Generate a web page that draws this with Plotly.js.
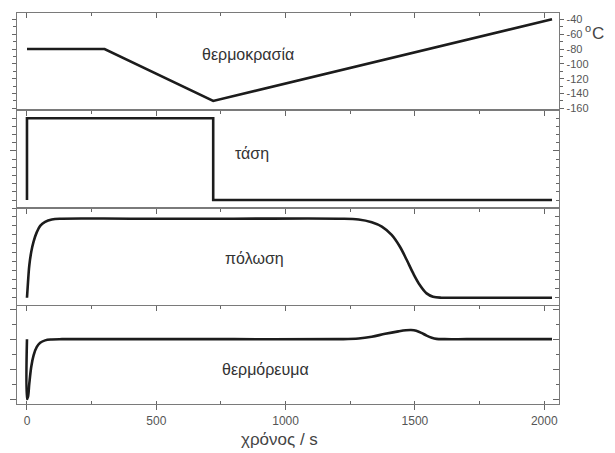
<!DOCTYPE html>
<html>
<head>
<meta charset="utf-8">
<script src="https://cdn.plot.ly/plotly-3.0.1.min.js"></script>
<style>html,body{margin:0;padding:0;background:#fff;}#chart{width:615px;height:453px;}</style>
</head>
<body>
<div id="chart"></div>
<script>
// ---- data ----
var timeTemp = [0, 300, 720, 2030];
var temperature = [-80, -80, -150, -40];

var timeVolt = [0, 0, 720, 720, 2030];
var voltage = [0, 1, 1, 0, 0];

var timePol = [0, 4, 9, 16.5, 25.5, 38, 51, 70, 96, 135, 400, 800, 1205, 1282, 1333, 1372, 1410, 1442, 1468, 1493, 1519, 1545, 1570, 1602, 1650, 1800, 2030];
var polarization = [0, 0.2, 0.41, 0.58, 0.71, 0.83, 0.91, 0.96, 0.99, 1.0, 1.0, 1.0, 1.0, 0.99, 0.955, 0.9, 0.795, 0.645, 0.48, 0.31, 0.16, 0.055, 0.013, 0, 0, 0, 0];

var timeCur = [0, 0, 4, 9, 16.5, 25.5, 38, 51, 70, 96, 135, 400, 800, 1205, 1282, 1333, 1385, 1436, 1465, 1485, 1505, 1525, 1545, 1565, 1583, 1615, 1700, 1850, 2030];
var current = [0, -1.0, -0.96, -0.74, -0.46, -0.27, -0.13, -0.06, -0.02, -0.005, 0, 0, 0, 0, 0.01, 0.04, 0.09, 0.13, 0.148, 0.152, 0.14, 0.105, 0.06, 0.025, 0.005, 0, 0, 0, 0];

var tempTickVals = [-40, -60, -80, -100, -120, -140, -160];
var tempTickText = ["-40", "-60", "-80", "-100", "-120", "-140", "-160"];
var xTickVals = [0, 500, 1000, 1500, 2000];
var xTickText = ["0", "500", "1000", "1500", "2000"];

var panelLabels = ["θερμοκρασία", "τάση", "πόλωση", "θερμόρευμα"];
var xTitle = "χρόνος / s";
var unitLabel = "C";

// ---- styling ----
var FONT = "Liberation Sans, Arial, sans-serif";
var LINE = "#7a7a7a";
var TICK = "#666";
var CURVE = "#1c1c1c";
var XR = [-38.6, 2057];

function curve(x, y, xa, ya, shape) {
  return {x: x, y: y, xaxis: xa, yaxis: ya, type: "scatter", mode: "lines",
    line: {color: CURVE, width: 2.6, shape: shape || "linear", smoothing: 1},
    hoverinfo: "skip", showlegend: false};
}
function empty(xa, ya) {
  return {x: [], y: [], xaxis: xa, yaxis: ya, type: "scatter", mode: "lines", hoverinfo: "skip", showlegend: false};
}

var data = [
  curve(timeTemp, temperature, "x5", "y7"),
  curve(timeVolt, voltage, "x4", "y5"),
  curve(timePol, polarization, "x3", "y3", "spline"),
  curve(timeCur, current, "x", "y", "spline"),
  empty("x2", "y"), empty("x", "y2"), empty("x3", "y4"), empty("x4", "y6")
];

function topX(anchor, overlay) {
  var a = {range: XR, autorange: false, anchor: anchor, side: "top", showticklabels: false,
    showgrid: false, zeroline: false, tickmode: "linear", tick0: 0, dtick: 500,
    ticks: "inside", ticklen: 5, tickwidth: 1, tickcolor: TICK,
    minor: {tickmode: "linear", tick0: 0, dtick: 250, ticks: "inside", ticklen: 3, tickwidth: 1, tickcolor: TICK},
    showline: true, mirror: false, linecolor: LINE, linewidth: 1.4};
  if (overlay) a.overlaying = overlay;
  return a;
}
function leftY(dom, range, anchor, major, minor) {
  var a = {domain: dom, range: range, autorange: false, anchor: anchor, side: "left",
    showticklabels: false, showgrid: false, zeroline: false,
    ticks: "outside", ticklen: 6, tickwidth: 1, tickcolor: TICK,
    showline: true, mirror: true, linecolor: LINE, linewidth: 1.4};
  Object.assign(a, major);
  if (minor) a.minor = Object.assign({ticks: "outside", ticklen: 3.5, tickwidth: 1, tickcolor: TICK}, minor);
  return a;
}
function rightY(range, anchor, overlay, major, minor) {
  var a = {range: range, autorange: false, anchor: anchor, overlaying: overlay, side: "right",
    showticklabels: false, showgrid: false, zeroline: false, showline: false,
    ticks: "inside", ticklen: 6, tickwidth: 1, tickcolor: TICK};
  Object.assign(a, major);
  if (minor) a.minor = Object.assign({ticks: "inside", ticklen: 3.5, tickwidth: 1, tickcolor: TICK}, minor);
  return a;
}

var rP4 = [-1.083, 0.55], rP3 = [-0.108, 1.129], rP2 = [-0.104, 1.092], rP1 = [-163.2, -31.5];
var d4 = [0, 0.25], d3 = [0.25, 0.5], d2 = [0.5, 0.75], d1 = [0.75, 1];

var layout = {
  width: 615, height: 453,
  margin: {l: 17, r: 56, t: 13, b: 49, pad: 0},
  paper_bgcolor: "#fff", plot_bgcolor: "rgba(0,0,0,0)",
  font: {family: FONT, color: "#444", size: 12},
  showlegend: false,
  xaxis: {range: XR, autorange: false, anchor: "y", side: "bottom", showgrid: false, zeroline: false,
    tickmode: "array", tickvals: xTickVals, ticktext: xTickText,
    tickfont: {size: 12, color: "#555"},
    ticks: "outside", ticklen: 5, tickwidth: 1, tickcolor: TICK,
    minor: {tickmode: "linear", tick0: 0, dtick: 250, ticks: "inside", ticklen: 3, tickwidth: 1, tickcolor: TICK},
    showline: true, mirror: false, linecolor: LINE, linewidth: 1.4},
  xaxis2: topX("y", "x"),
  xaxis3: topX("y3", null),
  xaxis4: topX("y5", null),
  xaxis5: topX("y7", null),
  yaxis: leftY(d4, rP4, "x", {tickmode: "linear", tick0: 0, dtick: 0.5}, {tickmode: "linear", tick0: 0, dtick: 0.25}),
  yaxis2: rightY(rP4, "x", "y", {tickmode: "linear", tick0: 0, dtick: 0.5}, {tickmode: "linear", tick0: 0, dtick: 0.25}),
  yaxis3: leftY(d3, rP3, "x3", {tickmode: "linear", tick0: 0, dtick: 0.114, ticklen: 4}, null),
  yaxis4: rightY(rP3, "x3", "y3", {tickmode: "linear", tick0: 0, dtick: 0.114, ticklen: 4}, null),
  yaxis5: leftY(d2, rP2, "x4", {tickmode: "array", tickvals: [0.6]}, {tickmode: "linear", tick0: 0, dtick: 0.1}),
  yaxis6: rightY(rP2, "x4", "y5", {tickmode: "array", tickvals: [0.6]}, {tickmode: "linear", tick0: 0, dtick: 0.1}),
  yaxis7: {domain: d1, range: rP1, autorange: false, anchor: "x5", side: "right",
    tickmode: "array", tickvals: tempTickVals, ticktext: tempTickText,
    tickfont: {size: 11, color: "#555"},
    ticks: "outside", ticklen: 4, tickwidth: 1, tickcolor: TICK,
    minor: {tickmode: "linear", tick0: 0, dtick: 10, ticks: "outside", ticklen: 2.5, tickwidth: 1, tickcolor: TICK},
    showgrid: false, zeroline: false,
    showline: true, mirror: "allticks", linecolor: LINE, linewidth: 1.4},
  annotations: [
    {text: panelLabels[0], xref: "paper", yref: "paper", x: 0.4262, y: 0.8926, xanchor: "center", yanchor: "middle", showarrow: false, font: {size: 16, color: "#333"}},
    {text: panelLabels[1], xref: "paper", yref: "paper", x: 0.4330, y: 0.6412, xanchor: "center", yanchor: "middle", showarrow: false, font: {size: 16, color: "#333"}},
    {text: panelLabels[2], xref: "paper", yref: "paper", x: 0.4373, y: 0.3734, xanchor: "center", yanchor: "middle", showarrow: false, font: {size: 16, color: "#333"}},
    {text: panelLabels[3], xref: "paper", yref: "paper", x: 0.4594, y: 0.0870, xanchor: "center", yanchor: "middle", showarrow: false, font: {size: 16, color: "#333"}},
    {text: xTitle, xref: "paper", yref: "paper", x: 0.485, y: -0.092, xanchor: "center", yanchor: "middle", showarrow: false, font: {size: 17, color: "#444"}},
    {text: "o", xref: "paper", yref: "paper", x: 1.0535, y: 0.962, xanchor: "center", yanchor: "middle", showarrow: false, font: {size: 11, color: "#444"}},
    {text: unitLabel, xref: "paper", yref: "paper", x: 1.0720, y: 0.9470, xanchor: "center", yanchor: "middle", showarrow: false, font: {size: 17, color: "#444"}}
  ]
};

Plotly.newPlot("chart", data, layout, {staticPlot: true, displayModeBar: false});
</script>
</body>
</html>
